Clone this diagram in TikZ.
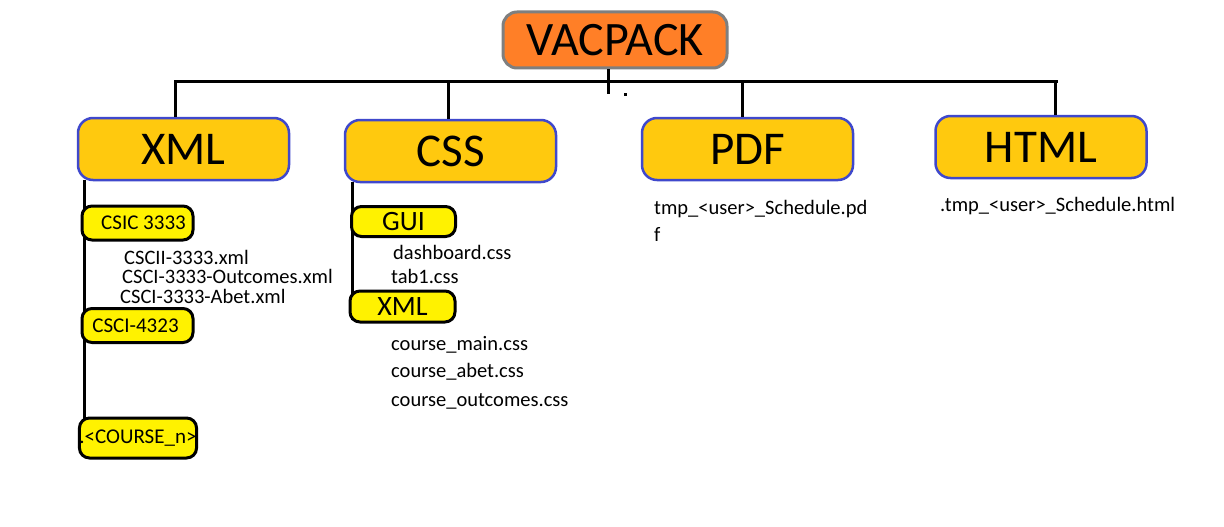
\documentclass[tikz,border=0pt]{standalone}
\usepackage{fontspec}
\setmainfont{Carlito}
\definecolor{rootfill}{HTML}{FF7F27}
\definecolor{rootdraw}{HTML}{7F7F7F}
\definecolor{catfill}{HTML}{FFC90E}
\definecolor{catdraw}{HTML}{3F48CC}
\definecolor{subfill}{HTML}{FFF200}
\tikzset{
  rootbox/.style={draw=rootdraw, fill=rootfill, line width=3pt, rounded corners=14pt,
    minimum width=224pt, minimum height=56pt, inner sep=0pt, font=\fontsize{48}{50}\selectfont},
  catbox/.style={draw=catdraw, fill=catfill, line width=2.5pt, rounded corners=15pt,
    minimum width=211pt, minimum height=62pt, inner sep=0pt, font=\fontsize{47}{50}\selectfont},
  subbox/.style={draw=black, fill=subfill, line width=3pt, rounded corners=10pt,
    minimum width=111pt, minimum height=34pt, inner sep=0pt, font=\fontsize{21}{23}\selectfont},
  guibox/.style={subbox, minimum width=104pt, minimum height=30pt, font=\fontsize{28}{30}\selectfont},
  filetext/.style={anchor=west, inner sep=0pt, font=\fontsize{20.5}{22}\selectfont},
  conn/.style={draw=black, line width=3pt},
}
\begin{document}
\begin{tikzpicture}[x=1pt, y=-1pt]
\useasboundingbox (0,0) rectangle (1224,527);
\fill[white] (0,0) rectangle (1224,527);

% root
\node[rootbox] (root) at (615,40) {VACPACK};

% categories
\node[catbox] (xml) at (183.5,149) {XML};
\node[catbox] (css) at (450.5,151) {CSS};
\node[catbox] (pdf) at (747.5,149) {PDF};
\node[catbox] (html) at (1041,147) {HTML};

% bus
\coordinate (busL) at (174,82);
\coordinate (busR) at (1058,82);
\draw[conn] (busL) -- (busR);
\draw[conn] ([xshift=-7pt]root.south) -- ++(0,25);
\fill (624,93) rectangle (627,96);
\draw[conn] ([xshift=-8.5pt]xml.north) -- ([xshift=-8.5pt]xml.north |- busL);
\draw[conn] ([xshift=-2.5pt]css.north) -- ([xshift=-2.5pt]css.north |- busL);
\draw[conn] ([xshift=-5.5pt]pdf.north) -- ([xshift=-5.5pt]pdf.north |- busL);
\draw[conn] ([xshift=14pt]html.north) -- ([xshift=14pt]html.north |- busL);

% side lines (behind the small boxes)
\coordinate (xl) at (84.5,180);
\coordinate (xlend) at (84.5,455);
\draw[conn] (xl) -- (xlend);
\coordinate (cl) at (352.5,182);
\coordinate (clend) at (352.5,320);
\draw[conn] (cl) -- (clend);

% XML subtree
\node[subbox] (c3333) at (137.5,223) {\hspace*{12pt}CSIC 3333};
\node[subbox] (c4323) at (137.5,325.5) {\hspace*{2pt}CSCI-4323\hspace*{6pt}};
\node[subbox, minimum width=108pt, minimum height=40pt] (cn) at (138,438) {.<COURSE\_n>};

\node[filetext] (f1) at (124,257) {CSCII-3333.xml};
\node[filetext] (f2) at (122,276) {CSCI-3333-Outcomes.xml};
\node[filetext] (f3) at (120,296) {CSCI-3333-Abet.xml};

% CSS subtree
\node[guibox] (gui) at (403.5,221.5) {GUI};
\node[guibox, minimum width=105pt, minimum height=31pt] (cssxml) at (402.5,306.5) {XML};

\node[filetext] (d1) at (393,252) {dashboard.css};
\node[filetext] (d2) at (391,276) {tab1.css};
\node[filetext] (d3) at (391,345) {course\_main.css};
\node[filetext] (d4) at (391,372) {course\_abet.css};
\node[filetext] (d5) at (391,401) {course\_outcomes.css};

% PDF / HTML
\node[filetext] (p1) at (654,209) {tmp\_<user>\_Schedule.pd};
\node[filetext] (p2) at (654,234) {f};
\node[filetext] (h1) at (940,206) {.tmp\_<user>\_Schedule.html};
\end{tikzpicture}
\end{document}
